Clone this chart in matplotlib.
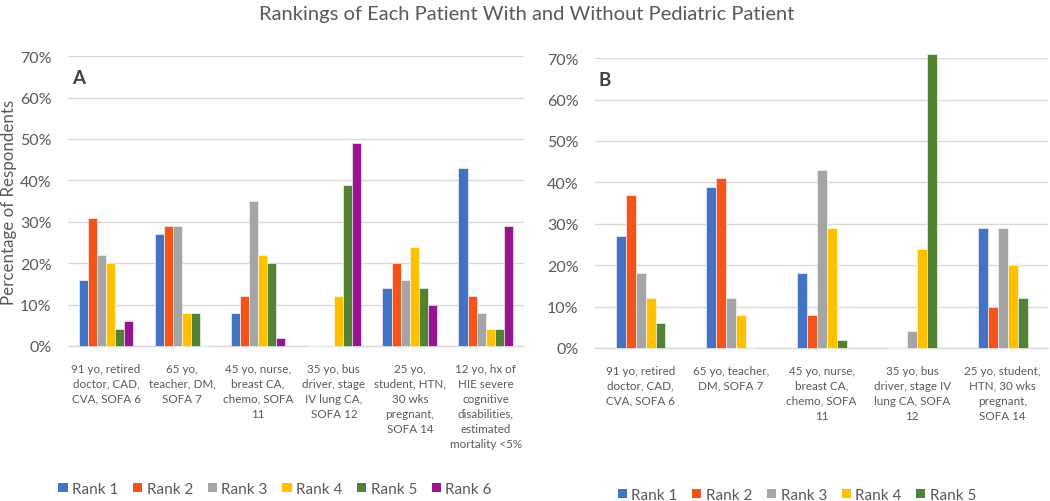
import matplotlib
matplotlib.use("Agg")
import matplotlib.pyplot as plt
import numpy as np
from matplotlib.ticker import PercentFormatter
from matplotlib.patches import Patch

plt.rcParams['font.family'] = ['Lato', 'DejaVu Sans']

title = "Rankings of Each Patient With and Without Pediatric Patient"

cats_a = ["91 yo, retired\ndoctor, CAD,\nCVA, SOFA 6",
          "65 yo,\nteacher, DM,\nSOFA 7",
          "45 yo, nurse,\nbreast CA,\nchemo, SOFA\n11",
          "35 yo, bus\ndriver, stage\nIV lung CA,\nSOFA 12",
          "25 yo,\nstudent, HTN,\n30 wks\npregnant,\nSOFA 14",
          "12 yo, hx of\nHIE severe\ncognitive\ndisabilities,\nestimated\nmortality <5%"]
cats_b = ["91 yo, retired\ndoctor, CAD,\nCVA, SOFA 6",
          "65 yo, teacher,\nDM, SOFA 7",
          "45 yo, nurse,\nbreast CA,\nchemo, SOFA\n11",
          "35 yo, bus\ndriver, stage IV\nlung CA, SOFA\n12",
          "25 yo, student,\nHTN, 30 wks\npregnant,\nSOFA 14"]

rank_names = ["Rank 1", "Rank 2", "Rank 3", "Rank 4", "Rank 5", "Rank 6"]
colors = ["#4472C4", "#F2541B", "#A5A5A5", "#FFC000", "#548235", "#97168F"]

# Panel A (with pediatric patient)
a_rank1 = [16, 27, 8, 0, 14, 43]
a_rank2 = [31, 29, 12, 0, 20, 12]
a_rank3 = [22, 29, 35, 0, 16, 8]
a_rank4 = [20, 8, 22, 12, 24, 4]
a_rank5 = [4, 8, 20, 39, 14, 4]
a_rank6 = [6, 0, 2, 49, 10, 29]

# Panel B (without pediatric patient)
b_rank1 = [27, 39, 18, 0, 29]
b_rank2 = [37, 41, 8, 0, 10]
b_rank3 = [18, 12, 43, 4, 29]
b_rank4 = [12, 8, 29, 24, 20]
b_rank5 = [6, 0, 2, 71, 12]

series_a = [a_rank1, a_rank2, a_rank3, a_rank4, a_rank5, a_rank6]
series_b = [b_rank1, b_rank2, b_rank3, b_rank4, b_rank5]

fig = plt.figure(figsize=(10.5, 5.02), dpi=100)
axA = fig.add_axes([0.0648, 0.309, 0.434, 0.577])
axB = fig.add_axes([0.567, 0.305, 0.431, 0.577])

textc = "#595959"
gridc = "#D9D9D9"

def draw(ax, cats, series, width, letter):
    n = len(series)
    x = np.arange(len(cats))
    for i, vals in enumerate(series):
        off = (i - (n - 1) / 2) * width
        ax.bar(x + off, vals, width, color=colors[i], edgecolor='white', linewidth=0.4,
               zorder=3, clip_on=False)
    ax.set_xlim(-0.5, len(cats) - 0.5)
    ax.set_ylim(0, 70)
    ax.set_yticks(np.arange(0, 71, 10))
    ax.yaxis.set_major_formatter(PercentFormatter(decimals=0))
    ax.grid(axis='y', color=gridc, linewidth=1, zorder=0)
    for s in ['top', 'right', 'left']:
        ax.spines[s].set_visible(False)
    ax.spines['bottom'].set_color(gridc)
    ax.spines['bottom'].set_linewidth(1)
    ax.set_xticks(x)
    ax.set_xticklabels(cats, fontsize=8.4, color=textc, linespacing=1.45, va='top')
    ax.tick_params(axis='x', length=0, pad=12)
    ax.tick_params(axis='y', length=0, labelsize=11.5, labelcolor=textc, pad=12)
    ax.text(0.008, 0.955, letter, transform=ax.transAxes, fontsize=13.5, fontweight='bold',
            color='#404040', va='top', ha='left')
    handles = [Patch(facecolor=colors[i], label=rank_names[i]) for i in range(n)]
    return handles

hA = draw(axA, cats_a, series_a, 0.12, "A")
hB = draw(axB, cats_b, series_b, 0.11, "B")

axA.set_ylabel("Percentage of Respondents", fontsize=12.2, color=textc)
axA.yaxis.set_label_coords(-0.112, 0.5)

fig.legend(handles=hA, loc='center', bbox_to_anchor=(0.262, 0.024), ncol=6, frameon=False,
           fontsize=11, handlelength=0.6, handleheight=0.6, handletextpad=0.3, columnspacing=0.95,
           labelcolor=textc)
fig.legend(handles=hB, loc='center', bbox_to_anchor=(0.759, 0.012), ncol=5, frameon=False,
           fontsize=11, handlelength=0.6, handleheight=0.6, handletextpad=0.3, columnspacing=0.95,
           labelcolor=textc)

fig.text(0.502, 0.972, title, ha='center', va='center', fontsize=14.5, color=textc)

fig.savefig("out.png", dpi=100)
